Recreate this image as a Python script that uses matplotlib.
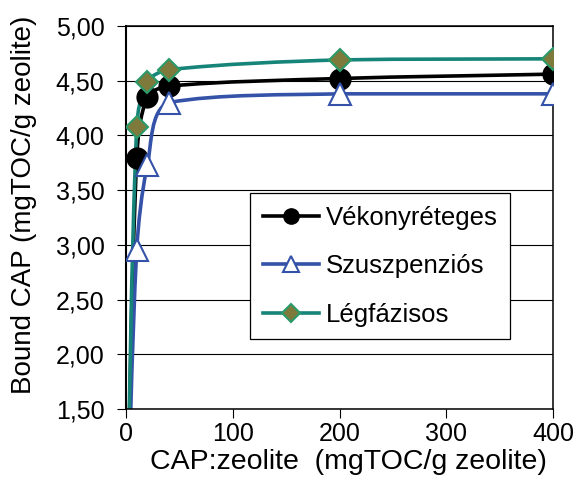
import numpy as np
import matplotlib
matplotlib.use("Agg")
import matplotlib.pyplot as plt
from matplotlib.path import Path
from matplotlib.patches import PathPatch
from matplotlib.lines import Line2D

plt.rcParams["font.family"] = ["Liberation Sans", "DejaVu Sans"]

# ---------------------------------------------------------------------------
# Data
# ---------------------------------------------------------------------------
cap_ratio = [0, 10, 20, 40, 200, 400]          # mgTOC/g zeolite

vekony = [0.0, 3.79, 4.35, 4.45, 4.52, 4.56]   # Vékonyréteges
szuszp = [0.0, 2.95, 3.73, 4.30, 4.38, 4.38]   # Szuszpenziós
legfaz = [0.0, 4.08, 4.49, 4.60, 4.69, 4.70]   # Légfázisos

series_names = ["Vékonyréteges", "Szuszpenziós", "Légfázisos"]

x_ticks = [0, 100, 200, 300, 400]
y_ticks = [1.5, 2.0, 2.5, 3.0, 3.5, 4.0, 4.5, 5.0]
y_ticklabels = ["1,50", "2,00", "2,50", "3,00", "3,50", "4,00", "4,50", "5,00"]


def smooth_path(ax, xs, ys, t=0.3):
    """Excel-like smoothed line: cubic Bezier through the points.
    Control points are computed in display space (and kept inside the
    vertical range of each segment so the curve doesn't overshoot)."""
    pts = ax.transData.transform(np.column_stack([xs, ys]))
    n = len(pts)
    tang = []
    for i in range(n):
        d = pts[min(i + 1, n - 1)] - pts[max(i - 1, 0)]
        tang.append(d / np.hypot(*d))
    verts = [pts[0]]
    codes = [Path.MOVETO]
    for i in range(n - 1):
        p0, p1 = pts[i], pts[i + 1]
        L = np.hypot(*(p1 - p0))
        c1 = p0 + tang[i] * L * t
        c2 = p1 - tang[i + 1] * L * t
        lo, hi = min(p0[1], p1[1]), max(p0[1], p1[1])
        c1[1] = np.clip(c1[1], lo, hi)
        c2[1] = np.clip(c2[1], lo, hi)
        verts += [c1, c2, p1]
        codes += [Path.CURVE4] * 3
    verts = ax.transData.inverted().transform(np.array(verts))
    return Path(verts, codes)


fig = plt.figure(figsize=(5.77, 4.83), dpi=100)
ax = fig.add_axes([0.2184, 0.1532, 0.7400, 0.7930])
ax.set_xlim(0, 400)
ax.set_ylim(1.5, 5.0)

styles = [
    dict(color="black", marker="o", ms=15, mfc="black", mec="black", mew=1.0, lms=11),
    dict(color="#3352a8", marker="^", ms=16, mfc="white", mec="#3352a8", mew=1.5, lms=12),
    dict(color="#168478", marker="D", ms=11.5, mfc="#7d7a3c", mec="#2a9a6a", mew=1.5, lms=9),
]

handles = []
for ys, name, st in zip([vekony, szuszp, legfaz], series_names, styles):
    path = smooth_path(ax, cap_ratio, ys)
    ax.add_patch(PathPatch(path, facecolor="none", edgecolor=st["color"],
                           lw=2.6, zorder=2, capstyle="round"))
    ax.plot(cap_ratio, ys, ls="none", marker=st["marker"], ms=st["ms"],
            mfc=st["mfc"], mec=st["mec"], mew=st["mew"], zorder=3)
    handles.append(Line2D([], [], color=st["color"], lw=2.6,
                          marker=st["marker"], ms=st["lms"], mfc=st["mfc"],
                          mec=st["mec"], mew=st["mew"], label=name))

# axes styling
ax.set_xticks(x_ticks)
ax.set_yticks(y_ticks)
ax.set_yticklabels(y_ticklabels)
ax.tick_params(axis="both", direction="out", length=6.5, width=0.8,
               labelsize=18, color="black")
ax.tick_params(axis="x", pad=2.5)
ax.tick_params(axis="y", pad=9.0)
ax.grid(axis="y", color="black", lw=0.8)
ax.set_axisbelow(True)
for sp in ax.spines.values():
    sp.set_linewidth(1.1)
    sp.set_color("black")
ax.spines["left"].set_linewidth(1.5)

ax.set_xlabel("CAP:zeolite  (mgTOC/g zeolite)", fontsize=20.5)
ax.xaxis.set_label_coords(0.52, -0.105)
ax.set_ylabel("Bound CAP (mgTOC/g zeolite)", fontsize=20, va="center")
ax.yaxis.set_label_coords(-0.24, 0.533)

leg = ax.legend(handles=handles, loc="upper left",
                bbox_to_anchor=(0.290, 0.564), borderaxespad=0,
                fontsize=18.5, frameon=True, fancybox=False, framealpha=1,
                edgecolor="black", numpoints=1, handlelength=2.2,
                handletextpad=0.25, borderpad=0.5, labelspacing=0.95)
leg.get_frame().set_linewidth(0.9)

fig.savefig("out.png", dpi=100)
